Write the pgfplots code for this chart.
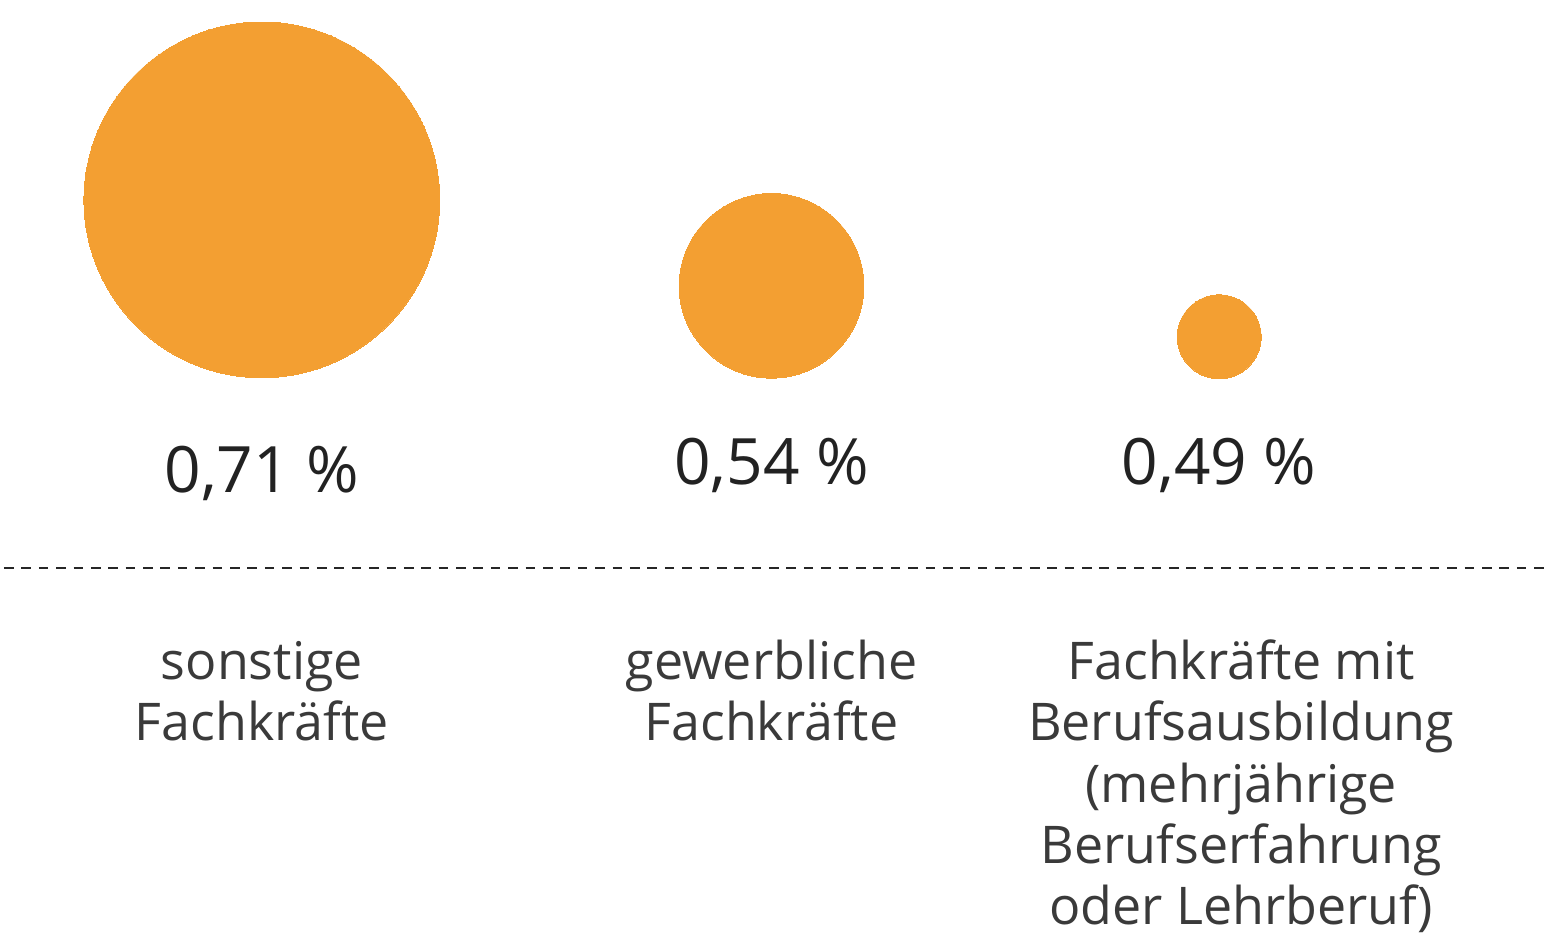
\documentclass[border=0pt]{standalone}
\usepackage{pgfplots}
\pgfplotsset{compat=1.18}
\usepackage{fontspec}
\setmainfont{Open Sans}
\definecolor{bub}{HTML}{F39F32}
\definecolor{txt}{HTML}{222222}
\definecolor{lab}{HTML}{3A3A3A}
\begin{document}
\begin{tikzpicture}
\begin{axis}[
  width=386.25pt, height=235pt, scale only axis,
  xmin=0, xmax=1545, ymin=0, ymax=940, y dir=reverse,
  hide axis, clip=false]
\path (axis cs:0,0) rectangle (axis cs:1545,940);
% bubbles: x, y (px), radius (pt)
\addplot[only marks, mark=*, color=bub, mark options={fill=bub, draw=bub, line width=0pt}, mark size=44.5pt] coordinates {(262,200)};
\addplot[only marks, mark=*, color=bub, mark options={fill=bub, draw=bub, line width=0pt}, mark size=23.1pt] coordinates {(772,286)};
\addplot[only marks, mark=*, color=bub, mark options={fill=bub, draw=bub, line width=0pt}, mark size=10.5pt] coordinates {(1220,337)};
% dashed separator
\addplot[draw=black!85, line width=0.5pt, dash pattern=on 2.4pt off 1.95pt, no marks] coordinates {(4,568) (1545,568)};
% value labels
\node[anchor=base, text=txt, font=\fontsize{16}{19}\selectfont] at (axis cs:262,493) {0,71 \%};
\node[anchor=base, text=txt, font=\fontsize{16}{19}\selectfont] at (axis cs:772,485) {0,54 \%};
\node[anchor=base, text=txt, font=\fontsize{16}{19}\selectfont] at (axis cs:1220,485) {0,49 \%};
% category labels (base anchor = last line's baseline)
\node[anchor=base, align=center, text=lab, font=\fontsize{13}{15.3}\selectfont] at (axis cs:262,741) {sonstige\\Fachkräfte};
\node[anchor=base, align=center, text=lab, font=\fontsize{13}{15.3}\selectfont] at (axis cs:772,741) {gewerbliche\\Fachkräfte};
\node[anchor=base, align=center, text=lab, font=\fontsize{13}{15.3}\selectfont] at (axis cs:1242,925) {Fachkräfte mit\\Berufsausbildung\\(mehrjährige\\Berufserfahrung\\oder Lehrberuf)};
\end{axis}
\end{tikzpicture}
\end{document}
